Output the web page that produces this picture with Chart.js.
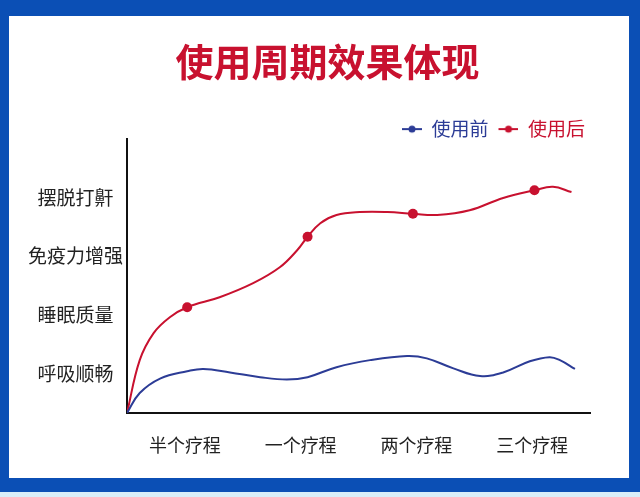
<!DOCTYPE html>
<html lang="zh">
<head>
    <meta charset="UTF-8">
    <title>使用周期效果体现</title>
    <script src="https://cdn.jsdelivr.net/npm/chart.js@4.4.0/dist/chart.umd.min.js"></script>
    <style>
        html, body {
            margin: 0;
            padding: 0;
        }
        body {
            width: 640px;
            height: 497px;
            background: #0b4fb5;
            position: relative;
            overflow: hidden;
        }
        .strip {
            position: absolute;
            left: 0;
            top: 492px;
            width: 640px;
            height: 5px;
            background: #d8eef9;
        }
        .panel {
            position: absolute;
            left: 9px;
            top: 16px;
            width: 620px;
            height: 462px;
            background: #fff;
        }
    </style>
</head>
<body>
<div class="panel"><canvas id="myChart" width="620" height="462"></canvas></div>
<div class="strip"></div>

<script>
    // axis labels
    var stageLabels = ["半个疗程", "一个疗程", "两个疗程", "三个疗程"];
    var levelLabels = ["呼吸顺畅", "睡眠质量", "免疫力增强", "摆脱打鼾"];
    var tickValues = [1, 2, 3, 4];

    // 使用前
    var beforeX = [0.5, 0.61, 0.79, 1.02, 1.16, 1.39, 1.65, 1.88, 2.06, 2.31, 2.60, 2.92, 3.09, 3.32, 3.55, 3.75, 3.98, 4.15, 4.24, 4.37];
    var beforeY = [0.33, 0.67, 0.92, 1.04, 1.08, 1.02, 0.94, 0.90, 0.94, 1.11, 1.23, 1.30, 1.26, 1.09, 0.96, 1.02, 1.21, 1.28, 1.23, 1.08];

    // 使用后
    var afterX = [0.5, 0.61, 0.73, 0.87, 1.02, 1.30, 1.59, 1.82, 1.97, 2.06, 2.17, 2.31, 2.51, 2.75, 2.97, 3.18, 3.46, 3.75, 4.02, 4.18, 4.34];
    var afterY = [0.33, 1.23, 1.69, 1.96, 2.13, 2.30, 2.54, 2.81, 3.10, 3.33, 3.56, 3.70, 3.75, 3.75, 3.72, 3.70, 3.78, 3.99, 4.12, 4.18, 4.09];
    var afterMarks = [4, 9, 14, 18];

    var blue = "#2c3c96";
    var red = "#c8112f";
    var cjk = "'Noto Sans CJK SC', 'Noto Sans', sans-serif";

    function toPoints(xs, ys) {
        var pts = [];
        for (var i = 0; i < xs.length; i++) {
            pts.push({x: xs[i], y: ys[i]});
        }
        return pts;
    }

    // little "line with dot" icon for the legend
    function legendIcon(color) {
        var c = document.createElement("canvas");
        c.width = 30;
        c.height = 10;
        var g = c.getContext("2d");
        g.strokeStyle = color;
        g.lineWidth = 2;
        g.beginPath();
        g.moveTo(10, 5);
        g.lineTo(30, 5);
        g.stroke();
        g.fillStyle = color;
        g.beginPath();
        g.arc(20, 5, 3.5, 0, Math.PI * 2);
        g.fill();
        return c;
    }

    // title sits a bit right of the plot centre, legend a bit in from the right
    var nudgeBoxes = {
        id: "nudgeBoxes",
        afterLayout: function (chart) {
            if (chart.titleBlock) chart.titleBlock.left = 56;
            if (chart.legend) chart.legend.right -= 5;
        }
    };

    var ctx = document.getElementById("myChart").getContext("2d");
    var myChart = new Chart(ctx, {
        type: "line",
        data: {
            datasets: [{
                label: "使用前",
                data: toPoints(beforeX, beforeY),
                borderColor: blue,
                backgroundColor: blue,
                borderWidth: 2,
                tension: 0.4,
                pointRadius: 0,
                fill: false
            }, {
                label: "使用后",
                data: toPoints(afterX, afterY),
                borderColor: red,
                backgroundColor: red,
                borderWidth: 2,
                tension: 0.4,
                pointRadius: function (c) {
                    return afterMarks.indexOf(c.dataIndex) >= 0 ? 5 : 0;
                },
                pointBorderWidth: 0,
                fill: false
            }]
        },
        options: {
            responsive: false,
            animation: false,
            devicePixelRatio: 1,
            layout: {padding: {left: 0, right: 39, top: 0, bottom: 0}},
            plugins: {
                title: {
                    display: true,
                    text: "使用周期效果体现",
                    color: "#c8112f",
                    font: {family: cjk, size: 38, weight: "bold"},
                    padding: {top: 23, bottom: 35}
                },
                legend: {
                    align: "end",
                    maxHeight: 19,
                    labels: {
                        usePointStyle: true,
                        pointStyleWidth: 30,
                        padding: 0,
                        font: {family: cjk, size: 19},
                        generateLabels: function (chart) {
                            var items = Chart.defaults.plugins.legend.labels.generateLabels(chart);
                            items.forEach(function (it) {
                                var col = it.datasetIndex === 0 ? blue : red;
                                it.pointStyle = legendIcon(col);
                                it.fontColor = col;
                            });
                            return items;
                        }
                    }
                },
                tooltip: {enabled: false}
            },
            scales: {
                x: {
                    type: "linear",
                    min: 0.5,
                    max: 4.5,
                    grid: {display: false, drawTicks: false},
                    border: {display: true, color: "#111", width: 2},
                    afterBuildTicks: function (s) {
                        s.ticks = tickValues.map(function (v) { return {value: v}; });
                    },
                    afterFit: function (s) { s.height = 65; },
                    ticks: {
                        padding: 21,
                        color: "#222",
                        font: {family: cjk, size: 18},
                        maxRotation: 0,
                        callback: function (v, i) { return stageLabels[i]; }
                    }
                },
                y: {
                    type: "linear",
                    min: 0.33,
                    max: 5,
                    grid: {display: false, drawTicks: false},
                    border: {display: true, color: "#111", width: 2},
                    afterBuildTicks: function (s) {
                        s.ticks = tickValues.map(function (v) { return {value: v}; });
                    },
                    afterFit: function (s) { s.width = 118; },
                    ticks: {
                        padding: 4,
                        crossAlign: "center",
                        color: "#222",
                        font: {family: cjk, size: 19},
                        callback: function (v, i) { return levelLabels[i]; }
                    }
                }
            }
        },
        plugins: [nudgeBoxes]
    });
</script>
</body>
</html>
